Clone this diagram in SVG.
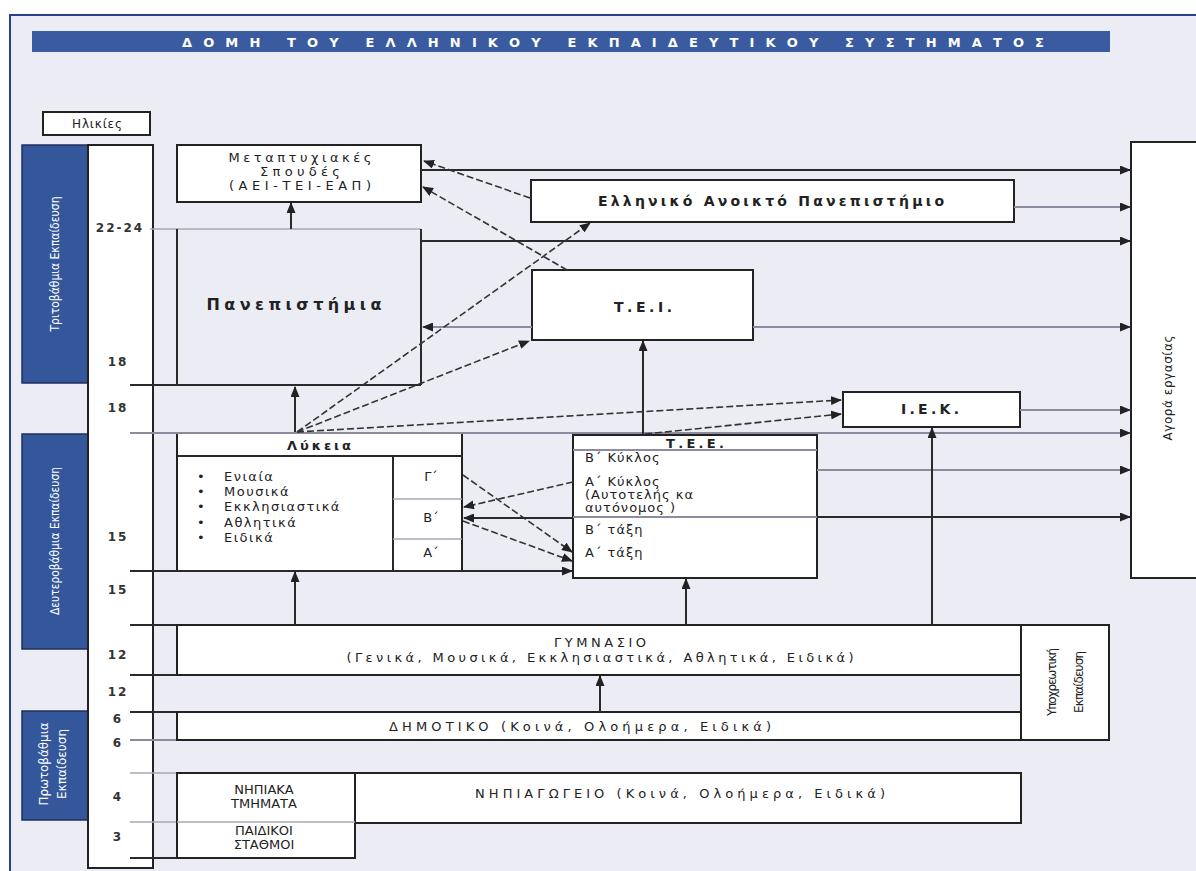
<svg xmlns="http://www.w3.org/2000/svg" width="1196" height="871" viewBox="0 0 1196 871">
<style>
.bg{fill:#ecedf4}
.box{fill:#fff;stroke:#222;stroke-width:2}
.bar{fill:#33579a;stroke:#1f2f5c;stroke-width:1.5}
.dk{stroke:#2a2a2a;stroke-width:2;fill:none}
.gr{stroke:#8e8b9e;stroke-width:2;fill:none}
.gl{stroke:#a8a6b6;stroke-width:1.5;fill:none}
.ds{stroke:#333;stroke-width:1.6;stroke-dasharray:7 3;fill:none}
.t{font-family:"DejaVu Sans","Liberation Sans",sans-serif;font-size:13px;fill:#222}
.tb{font-family:"DejaVu Sans","Liberation Sans",sans-serif;font-size:14px;font-weight:bold;fill:#222}
.w{font-family:"DejaVu Sans","Liberation Sans",sans-serif;font-size:12px;fill:#fff}
.c{text-anchor:middle}
</style>
<defs>
<marker id="ah" markerWidth="11" markerHeight="9" refX="10" refY="4.5" orient="auto" markerUnits="userSpaceOnUse">
<path d="M0,0 L11,4.5 L0,9 z" fill="#222"/>
</marker>
</defs>
<rect class="bg" x="0" y="0" width="1196" height="871"/>
<rect x="0" y="0" width="1196" height="14" fill="#fff"/>
<rect x="0" y="0" width="9" height="871" fill="#fff"/>
<path d="M10,871 V15 H1196" stroke="#2b3f86" stroke-width="2" fill="none"/>

<g id="title">
<rect x="32" y="31" width="1078" height="21" fill="#3b5ba0"/>
<text x="182" y="47" textLength="862" lengthAdjust="spacing" style="font-family:'DejaVu Sans',sans-serif;font-size:13px;font-weight:bold;fill:#fff">ΔΟΜΗ ΤΟΥ ΕΛΛΗΝΙΚΟΥ ΕΚΠΑΙΔΕΥΤΙΚΟΥ ΣΥΣΤΗΜΑΤΟΣ</text>
</g>

<g id="ages-header">
<rect class="box" x="43" y="112" width="107" height="23" stroke-width="1.5"/>
<text class="t c" x="97" y="128" style="font-size:12px" textLength="50" lengthAdjust="spacing">Ηλικίες</text>
</g>

<g id="level-tertiary">
<rect class="bar" x="22" y="145" width="66" height="238"/>
<text class="w c" transform="translate(59,264) rotate(-90)" textLength="135" lengthAdjust="spacingAndGlyphs">Τριτοβάθμια Εκπαίδευση</text>
</g>
<g id="level-secondary">
<rect class="bar" x="22" y="434" width="66" height="215"/>
<text class="w c" transform="translate(59,541) rotate(-90)" textLength="148" lengthAdjust="spacingAndGlyphs">Δευτεροβάθμια Εκπαίδευση</text>
</g>
<g id="level-primary">
<rect class="bar" x="22" y="711" width="66" height="109"/>
<text class="w c" transform="translate(48,764) rotate(-90)" textLength="83" lengthAdjust="spacingAndGlyphs">Πρωτοβάθμια</text>
<text class="w c" transform="translate(66,764) rotate(-90)" textLength="70" lengthAdjust="spacingAndGlyphs">Εκπαίδευση</text>
</g>

<g id="age-column">
<rect x="88" y="145" width="65" height="723" fill="#fff" stroke="#222" stroke-width="2"/>
<g class="t c" style="font-size:12px;font-weight:bold;fill:#333;letter-spacing:2px">
<text x="120" y="232">22-24</text>
<text x="118" y="366">18</text>
<text x="118" y="412">18</text>
<text x="118" y="541">15</text>
<text x="118" y="594">15</text>
<text x="118" y="659">12</text>
<text x="118" y="696">12</text>
<text x="118" y="723">6</text>
<text x="118" y="747">6</text>
<text x="118" y="801">4</text>
<text x="118" y="841">3</text>
</g>
</g>

<g id="age-lines">
<line class="gl" x1="150" y1="229" x2="421" y2="229"/>
<line class="dk" x1="130" y1="385" x2="421" y2="385"/>
<line class="dk" x1="130" y1="625" x2="1109" y2="625"/>
<line class="dk" x1="130" y1="675" x2="177" y2="675"/>
<line class="dk" x1="130" y1="712" x2="177" y2="712"/>
<line class="gr" x1="130" y1="740" x2="177" y2="740"/>
<line class="gl" x1="130" y1="773" x2="177" y2="773"/>
<line class="gl" x1="130" y1="822" x2="355" y2="822"/>
<line class="dk" x1="130" y1="858" x2="177" y2="858"/>
</g>

<g id="metaptyxiakes">
<rect class="box" x="177" y="145" width="244" height="57"/>
<text class="t c" x="300" y="162" textLength="143" lengthAdjust="spacing">Μεταπτυχιακές</text>
<text class="t c" x="300" y="176" textLength="80" lengthAdjust="spacing">Σπουδές</text>
<text class="t c" x="300" y="190" textLength="142" lengthAdjust="spacing">(ΑΕΙ-ΤΕΙ-ΕΑΠ)</text>
</g>

<g id="panepistimia">
<path class="dk" d="M177,229 V385 M421,229 V385"/>
<text class="tb c" x="294" y="310" style="font-size:16px" textLength="175" lengthAdjust="spacing">Πανεπιστήμια</text>
</g>

<g id="eap">
<rect class="box" x="531" y="180" width="483" height="42"/>
<text class="tb c" x="771" y="206" textLength="346" lengthAdjust="spacing">Ελληνικό Ανοικτό Πανεπιστήμιο</text>
</g>

<g id="tei">
<rect class="box" x="532" y="270" width="221" height="70"/>
<text class="tb c" x="643" y="312" textLength="58" lengthAdjust="spacing">Τ.Ε.Ι.</text>
</g>

<g id="iek">
<rect class="box" x="843" y="392" width="177" height="35"/>
<text class="tb c" x="930" y="414" textLength="58" lengthAdjust="spacing">Ι.Ε.Κ.</text>
</g>

<g id="agora">
<rect class="box" x="1131" y="142" width="70" height="436"/>
<text class="t c" transform="translate(1172,388) rotate(-90)" style="font-size:12px" textLength="105" lengthAdjust="spacing">Αγορά εργασίας</text>
</g>

<g id="lykeia">
<rect class="box" x="177" y="433" width="285" height="138"/>
<line class="dk" x1="177" y1="456" x2="462" y2="456"/>
<line class="dk" x1="393" y1="456" x2="393" y2="571"/>
<line class="gl" x1="393" y1="499" x2="462" y2="499"/>
<line class="gl" x1="393" y1="539" x2="462" y2="539"/>
<text class="tb c" x="319" y="450" style="font-size:13px" textLength="64" lengthAdjust="spacing">Λύκεια</text>
<g class="t" style="letter-spacing:1.5px">
<text x="197" y="481">•</text><text x="224" y="481">Ενιαία</text>
<text x="197" y="496">•</text><text x="224" y="496">Μουσικά</text>
<text x="197" y="511">•</text><text x="224" y="511">Εκκλησιαστικά</text>
<text x="197" y="527">•</text><text x="224" y="527">Αθλητικά</text>
<text x="197" y="542">•</text><text x="224" y="542">Ειδικά</text>
</g>
<text class="t c" x="431" y="481">Γ΄</text>
<text class="t c" x="431" y="522">Β΄</text>
<text class="t c" x="431" y="557">Α΄</text>
</g>

<g id="tee">
<rect class="box" x="573" y="435" width="244" height="143"/>
<line class="gr" x1="573" y1="450" x2="817" y2="450"/>
<line class="gr" x1="573" y1="517" x2="817" y2="517"/>
<text class="tb c" x="695" y="448" style="font-size:13px" textLength="58" lengthAdjust="spacing">Τ.Ε.Ε.</text>
<g class="t" style="letter-spacing:1px">
<text x="585" y="462">Β΄  Κύκλος</text>
<text x="585" y="486">Α΄  Κύκλος</text>
<text x="585" y="499">(Αυτοτελής κα</text>
<text x="585" y="512">αυτόνομος )</text>
<text x="585" y="534">Β΄ τάξη</text>
<text x="585" y="557">Α΄ τάξη</text>
</g>
</g>

<g id="gymnasio">
<rect class="box" x="177" y="625" width="844" height="50"/>
<text class="t c" x="600" y="647" textLength="92" lengthAdjust="spacing">ΓΥΜΝΑΣΙΟ</text>
<text class="t c" x="600" y="662" textLength="507" lengthAdjust="spacing">(Γενικά, Μουσικά, Εκκλησιαστικά, Αθλητικά, Ειδικά)</text>
</g>

<g id="ypoxreotiki">
<rect class="box" x="1021" y="625" width="88" height="115"/>
<text class="t c" transform="translate(1056,682) rotate(-90)" style="font-size:12px" textLength="68" lengthAdjust="spacing">Υποχρεωτική</text>
<text class="t c" transform="translate(1083,682) rotate(-90)" style="font-size:12px" textLength="62" lengthAdjust="spacing">Εκπαίδευση</text>
</g>

<g id="dimotiko">
<rect class="box" x="177" y="712" width="844" height="28"/>
<text class="t c" x="580" y="731" textLength="382" lengthAdjust="spacing">ΔΗΜΟΤΙΚΟ (Κοινά, Ολοήμερα, Ειδικά)</text>
</g>

<g id="nipiagogeio">
<rect class="box" x="355" y="773" width="666" height="50"/>
<text class="t c" x="680" y="798" textLength="410" lengthAdjust="spacing">ΝΗΠΙΑΓΩΓΕΙΟ (Κοινά, Ολοήμερα, Ειδικά)</text>
</g>

<g id="nipiaka">
<rect class="box" x="177" y="773" width="178" height="85"/>
<line class="gl" x1="177" y1="822" x2="355" y2="822"/>
<text class="t c" x="264" y="794">ΝΗΠΙΑΚΑ</text>
<text class="t c" x="264" y="808">ΤΜΗΜΑΤΑ</text>
<text class="t c" x="264" y="835">ΠΑΙΔΙΚΟΙ</text>
<text class="t c" x="264" y="849">ΣΤΑΘΜΟΙ</text>
</g>

<g id="connectors">
<line class="dk" x1="421" y1="170" x2="1130" y2="170" marker-end="url(#ah)"/>
<line class="gr" x1="1014" y1="207" x2="1130" y2="207" marker-end="url(#ah)"/>
<line class="dk" x1="421" y1="241" x2="1130" y2="241" marker-end="url(#ah)"/>
<line class="gr" x1="753" y1="327" x2="1130" y2="327" marker-end="url(#ah)"/>
<line class="gr" x1="532" y1="327" x2="423" y2="327" marker-end="url(#ah)"/>
<line class="gr" x1="1020" y1="410" x2="1130" y2="410" marker-end="url(#ah)"/>
<line class="gr" x1="130" y1="433" x2="1130" y2="433" marker-end="url(#ah)"/>
<line class="gr" x1="817" y1="470" x2="1130" y2="470" marker-end="url(#ah)"/>
<line class="dk" x1="817" y1="517" x2="1130" y2="517" marker-end="url(#ah)"/>

<line class="dk" x1="291" y1="229" x2="291" y2="203" marker-end="url(#ah)"/>
<line class="dk" x1="295" y1="432" x2="295" y2="387" marker-end="url(#ah)"/>
<line class="dk" x1="643" y1="435" x2="643" y2="341" marker-end="url(#ah)"/>
<line class="dk" x1="932" y1="625" x2="932" y2="428" marker-end="url(#ah)"/>
<line class="dk" x1="295" y1="625" x2="295" y2="572" marker-end="url(#ah)"/>
<line class="dk" x1="686" y1="625" x2="686" y2="579" marker-end="url(#ah)"/>
<line class="dk" x1="600" y1="712" x2="600" y2="676" marker-end="url(#ah)"/>

<line class="ds" x1="297" y1="432" x2="590" y2="223" marker-end="url(#ah)"/>
<line class="ds" x1="297" y1="432" x2="529" y2="341" marker-end="url(#ah)"/>
<line class="ds" x1="297" y1="432" x2="841" y2="400" marker-end="url(#ah)"/>
<line class="ds" x1="645" y1="434" x2="841" y2="414" marker-end="url(#ah)"/>
<line class="ds" x1="530" y1="198" x2="424" y2="161" marker-end="url(#ah)"/>
<line class="ds" x1="567" y1="270" x2="423" y2="187" marker-end="url(#ah)"/>

<line class="ds" x1="463" y1="475" x2="572" y2="552" marker-end="url(#ah)"/>
<line class="ds" x1="573" y1="482" x2="464" y2="507" marker-end="url(#ah)"/>
<line class="dk" x1="573" y1="518" x2="464" y2="518" marker-end="url(#ah)"/>
<line class="ds" x1="463" y1="521" x2="572" y2="561" marker-end="url(#ah)"/>
<line class="dk" x1="130" y1="571" x2="572" y2="571" marker-end="url(#ah)"/>
</g>
</svg>
